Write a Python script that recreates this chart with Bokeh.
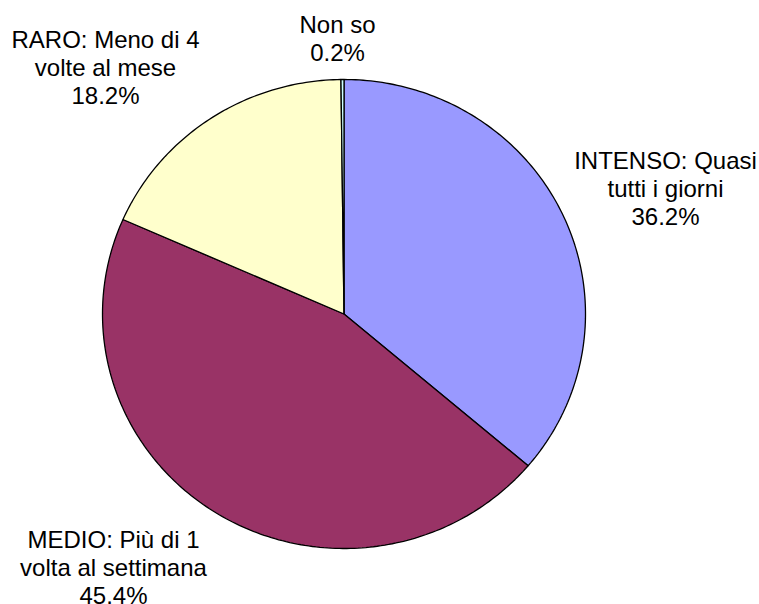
import numpy as np
from bokeh.plotting import figure
from bokeh.models import Range1d, ColumnDataSource
from bokeh.embed import file_html
from bokeh.resources import INLINE
from bokeh.core.properties import value

# ---- data ----
categories = ["INTENSO: Quasi tutti i giorni", "MEDIO: Più di 1 volta al settimana",
              "RARO: Meno di 4 volte al mese", "Non so"]
shares = [36.2, 45.4, 18.2, 0.2]
label_lines = [["INTENSO: Quasi", "tutti i giorni", "36.2%"],
               ["MEDIO: Più di 1", "volta al settimana", "45.4%"],
               ["RARO: Meno di 4", "volte al mese", "18.2%"],
               ["Non so", "0.2%"]]
colors = ["#9999FF", "#993366", "#FFFFCC", "#CCFFFF"]

# ---- layout (picture pixel coordinates) ----
W, H = 759, 604
cx, cy, rx, ry = 343.5, 313.5, 241.5, 234.5
label_pos = [(665, 160), (113, 539), (105, 39), (337, 24)]
line_h = 28

p = figure(width=W, height=H, output_backend="svg", toolbar_location=None,
           x_range=Range1d(0, W), y_range=Range1d(H, 0), min_border=0)
p.axis.visible = False
p.grid.visible = False
p.outline_line_color = None
p.background_fill_color = "white"
p.border_fill_color = "white"

total = sum(shares)
start = 0.0
xs, ys = [], []
for s in shares:
    a0 = start / total * 2 * np.pi
    a1 = (start + s) / total * 2 * np.pi
    n = max(3, int(400 * s / total))
    th = np.linspace(a0, a1, n)
    x = np.concatenate([[cx], cx + rx * np.sin(th)])
    y = np.concatenate([[cy], cy - ry * np.cos(th)])
    xs.append(list(x))
    ys.append(list(y))
    start += s

p.patches(xs=xs, ys=ys, fill_color=colors, line_color="black", line_width=1.3)

tx, ty, tt = [], [], []
for (lx, ly), lines in zip(label_pos, label_lines):
    for i, t in enumerate(lines):
        tx.append(lx)
        ty.append(ly + i * line_h)
        tt.append(t)
src = ColumnDataSource(dict(x=tx, y=ty, text=tt))
p.text(x="x", y="y", text="text", source=src, text_align="center",
       text_baseline="alphabetic", text_font=value("Liberation Sans"),
       text_font_size="24px", text_color="black")

open("out.html", "w").write(file_html(p, INLINE))
